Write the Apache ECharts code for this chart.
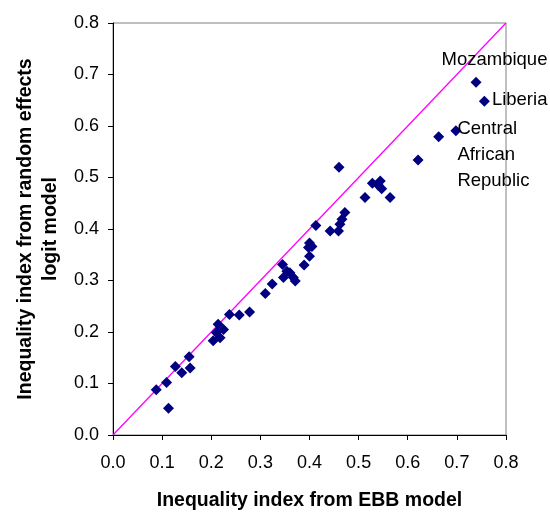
<!DOCTYPE html>
<html>
<head>
<meta charset="utf-8">
<title>Inequality index comparison</title>
<script src="https://cdn.jsdelivr.net/npm/echarts@6/dist/echarts.min.js"></script>
<style>
  html, body { margin: 0; padding: 0; background: #fff; }
  #chart { width: 550px; height: 516px; }
</style>
</head>
<body>
<div id="chart"></div>
<script>
// Inequality index per country: EBB model (x) against random effects logit model (y)
const ebbIndex = [
  0.088, 0.109, 0.113, 0.127, 0.140, 0.157, 0.155,
  0.204, 0.218, 0.210, 0.225, 0.214, 0.237, 0.257, 0.278,
  0.310, 0.324, 0.345, 0.354, 0.347, 0.367, 0.371, 0.360,
  0.389, 0.400, 0.398, 0.405, 0.400, 0.413,
  0.442, 0.459, 0.462, 0.466, 0.472, 0.460,
  0.513, 0.528, 0.544, 0.547, 0.540, 0.564,
  0.621, 0.663, 0.698, 0.739, 0.756
];
const logitIndex = [
  0.088, 0.102, 0.052, 0.133, 0.121, 0.130, 0.152,
  0.183, 0.189, 0.199, 0.205, 0.215, 0.234, 0.233, 0.239,
  0.275, 0.293, 0.331, 0.318, 0.306, 0.306, 0.299, 0.315,
  0.330, 0.347, 0.364, 0.366, 0.373, 0.407,
  0.396, 0.396, 0.409, 0.419, 0.432, 0.520,
  0.461, 0.489, 0.493, 0.478, 0.485, 0.461,
  0.534, 0.579, 0.591, 0.685, 0.648
];
// Country names shown beside selected points (empty = unlabelled)
const pointNames = [
  '', '', '', '', '', '', '',
  '', '', '', '', '', '', '', '',
  '', '', '', '', '', '', '', '',
  '', '', '', '', '', '',
  '', '', '', '', '', '',
  '', '', '', '', '', '',
  '', '', 'Central\nAfrican\nRepublic', 'Mozambique', 'Liberia'
];
const axisTicks = [0, 0.1, 0.2, 0.3, 0.4, 0.5, 0.6, 0.7, 0.8];

const FONT = '"Liberation Sans", Arial, sans-serif';

// Label placement for the named countries
const labelStyles = {
  'Mozambique': { position: [-29, -26], align: 'left', verticalAlign: 'top' },
  'Liberia': { position: [13, -5], align: 'left', verticalAlign: 'top' },
  'Central\nAfrican\nRepublic': { position: [7, -9], align: 'left', verticalAlign: 'top', lineHeight: 26 }
};

const points = ebbIndex.map((x, i) => {
  const name = pointNames[i];
  const item = { value: [x, logitIndex[i]] };
  if (name) {
    item.name = name;
    item.label = Object.assign({
      show: true,
      formatter: name,
      color: '#000',
      fontSize: 18.5,
      fontFamily: FONT
    }, labelStyles[name]);
  }
  return item;
});

const chart = echarts.init(document.getElementById('chart'), null, { renderer: 'canvas' });

const axisCommon = {
  type: 'value',
  min: axisTicks[0],
  max: axisTicks[axisTicks.length - 1],
  interval: 0.1,
  splitLine: { show: false },
  axisLine: { show: true, onZero: false, lineStyle: { color: '#000', width: 1 } },
  axisTick: { show: true, length: 5, lineStyle: { color: '#000' } },
  axisLabel: {
    color: '#000',
    fontSize: 18,
    fontFamily: FONT,
    formatter: v => v.toFixed(1)
  },
  nameTextStyle: {
    color: '#000',
    fontSize: 19.5,
    fontWeight: 'bold',
    fontFamily: FONT
  },
  nameLocation: 'middle'
};

chart.setOption({
  animation: false,
  backgroundColor: '#fff',
  grid: {
    left: 113, top: 23, right: 44, bottom: 80,
    show: true,
    borderColor: '#808080',
    borderWidth: 1,
    backgroundColor: '#fff'
  },
  xAxis: Object.assign({}, axisCommon, {
    name: 'Inequality index from EBB model',
    nameGap: 56,
    axisLabel: Object.assign({}, axisCommon.axisLabel, { margin: 19 })
  }),
  yAxis: Object.assign({}, axisCommon, {
    name: 'Inequality index from random effects\nlogit model',
    nameGap: 49,
    nameRotate: 90,
    nameTextStyle: Object.assign({}, axisCommon.nameTextStyle, { lineHeight: 25 }),
    axisLabel: Object.assign({}, axisCommon.axisLabel, { margin: 14 })
  }),
  series: [
    {
      type: 'line',
      data: [[axisTicks[0], axisTicks[0]], [axisTicks[axisTicks.length - 1], axisTicks[axisTicks.length - 1]]],
      symbol: 'none',
      lineStyle: { color: '#FF00FF', width: 1.3 },
      silent: true,
      z: 1
    },
    {
      type: 'scatter',
      data: points,
      symbol: 'diamond',
      symbolSize: 11,
      itemStyle: { color: '#000080', opacity: 1 },
      z: 3
    }
  ]
});
</script>
</body>
</html>
